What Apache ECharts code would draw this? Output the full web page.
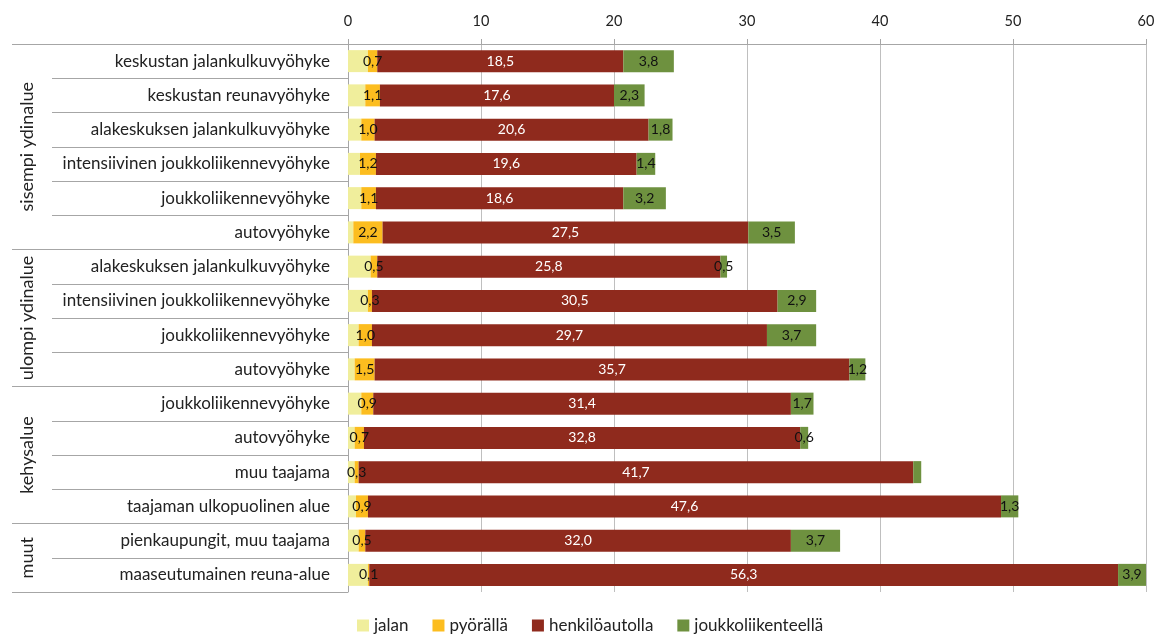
<!DOCTYPE html>
<html>
<head>
<meta charset="utf-8">
<script src="https://cdn.jsdelivr.net/npm/echarts@6/dist/echarts.min.js"></script>
<style>
  html, body { margin: 0; padding: 0; background: #fff; }
  #chart { width: 1161px; height: 636px; }
</style>
</head>
<body>
<div id="chart"></div>
<script>
// Zones, top to bottom
const categories = [
  'keskustan jalankulkuvyöhyke',
  'keskustan reunavyöhyke',
  'alakeskuksen jalankulkuvyöhyke',
  'intensiivinen joukkoliikennevyöhyke',
  'joukkoliikennevyöhyke',
  'autovyöhyke',
  'alakeskuksen jalankulkuvyöhyke',
  'intensiivinen joukkoliikennevyöhyke',
  'joukkoliikennevyöhyke',
  'autovyöhyke',
  'joukkoliikennevyöhyke',
  'autovyöhyke',
  'muu taajama',
  'taajaman ulkopuolinen alue',
  'pienkaupungit, muu taajama',
  'maaseutumainen reuna-alue'
];

// Zone groups: name and index of the first zone in each
const groupNames = ['sisempi ydinalue', 'ulompi ydinalue', 'kehysalue', 'muut'];
const groupStarts = [0, 6, 10, 14];

// Modes of travel
const jalan = [1.5, 1.3, 1.0, 0.9, 1.0, 0.4, 1.7, 1.5, 0.8, 0.5, 1.0, 0.5, 0.5, 0.6, 0.8, 1.5];
const pyoralla = [0.7, 1.1, 1.0, 1.2, 1.1, 2.2, 0.5, 0.3, 1.0, 1.5, 0.9, 0.7, 0.3, 0.9, 0.5, 0.1];
const henkiloautolla = [18.5, 17.6, 20.6, 19.6, 18.6, 27.5, 25.8, 30.5, 29.7, 35.7, 31.4, 32.8, 41.7, 47.6, 32.0, 56.3];
const joukkoliikenteella = [3.8, 2.3, 1.8, 1.4, 3.2, 3.5, 0.5, 2.9, 3.7, 1.2, 1.7, 0.6, 0.6, 1.3, 3.7, 3.9];
// zones whose public-transport value carries no label
const unlabeledJoukko = [12];

const xTicks = { min: 0, max: 60, interval: 10 };

const FONT = 'Lato, "Noto Sans", sans-serif';
const fmt = v => v.toFixed(1).replace('.', ',');

const chart = echarts.init(document.getElementById('chart'), null, { renderer: 'canvas' });

function labelCfg(color) {
  return {
    show: true,
    position: 'inside',
    color: color,
    fontFamily: FONT,
    fontSize: 14,
    formatter: p => fmt(p.value)
  };
}

const barW = 22;

const option = {
  animation: false,
  backgroundColor: '#fff',
  textStyle: { fontFamily: FONT },
  grid: { left: 348, right: 15, top: 44, bottom: 44, containLabel: false },
  legend: {
    bottom: -3,
    left: 352,
    icon: 'rect',
    itemWidth: 12,
    itemHeight: 12,
    itemGap: 24,
    textStyle: { fontFamily: FONT, fontSize: 17, color: '#222' },
    data: ['jalan', 'pyörällä', 'henkilöautolla', 'joukkoliikenteellä']
  },
  xAxis: {
    type: 'value',
    position: 'top',
    min: xTicks.min,
    max: xTicks.max,
    interval: xTicks.interval,
    axisLine: { show: true, lineStyle: { color: '#a6a6a6', width: 1 } },
    axisTick: { show: true, length: 5, lineStyle: { color: '#a6a6a6' } },
    axisLabel: { color: '#222', fontSize: 14.5, fontFamily: FONT, margin: 15 },
    splitLine: { show: true, lineStyle: { color: '#bfbfbf', width: 1 } }
  },
  yAxis: [
    {
      type: 'category',
      inverse: true,
      data: categories,
      axisLine: { show: true, lineStyle: { color: '#a6a6a6', width: 1 } },
      axisTick: { show: true, length: 296, lineStyle: { color: '#a6a6a6' } },
      axisLabel: { color: '#222', fontSize: 17, fontFamily: FONT, margin: 18, interval: 0 }
    },
    {
      // longer lines marking the zone group boundaries
      type: 'category',
      inverse: true,
      position: 'left',
      data: categories,
      axisLine: { show: false },
      axisLabel: { show: false },
      axisTick: {
        show: true,
        length: 336,
        interval: (idx) => groupStarts.indexOf(idx) >= 0,
        lineStyle: { color: '#a6a6a6' }
      }
    }
  ],
  series: [
    {
      name: 'jalan', type: 'bar', stack: 'm', barWidth: barW,
      itemStyle: { color: '#f0ee9c' },
      label: { show: false },
      data: jalan
    },
    {
      name: 'pyörällä', type: 'bar', stack: 'm', barWidth: barW,
      itemStyle: { color: '#fcbd1f' },
      label: labelCfg('#111'),
      data: pyoralla
    },
    {
      name: 'henkilöautolla', type: 'bar', stack: 'm', barWidth: barW,
      itemStyle: { color: '#8f2a1d' },
      label: labelCfg('#fff'),
      data: henkiloautolla
    },
    {
      name: 'joukkoliikenteellä', type: 'bar', stack: 'm', barWidth: barW,
      itemStyle: { color: '#6e913f' },
      label: labelCfg('#111'),
      data: joukkoliikenteella.map((v, i) =>
        unlabeledJoukko.indexOf(i) >= 0 ? { value: v, label: { show: false } } : v)
    }
  ]
};

chart.setOption(option);

// Rotated group names, centred on each group's rows
const groupEnds = groupStarts.slice(1).concat([categories.length]).map(e => e - 1);
const groupTexts = groupNames.map((name, g) => {
  const y0 = chart.convertToPixel({ yAxisIndex: 0 }, groupStarts[g]);
  const y1 = chart.convertToPixel({ yAxisIndex: 0 }, groupEnds[g]);
  return {
    type: 'text',
    x: 27,
    y: (y0 + y1) / 2,
    rotation: Math.PI / 2,
    style: {
      text: name,
      fontFamily: FONT,
      fontSize: 18,
      fill: '#222',
      textAlign: 'center',
      textVerticalAlign: 'middle'
    }
  };
});
chart.setOption({ graphic: groupTexts });
</script>
</body>
</html>
